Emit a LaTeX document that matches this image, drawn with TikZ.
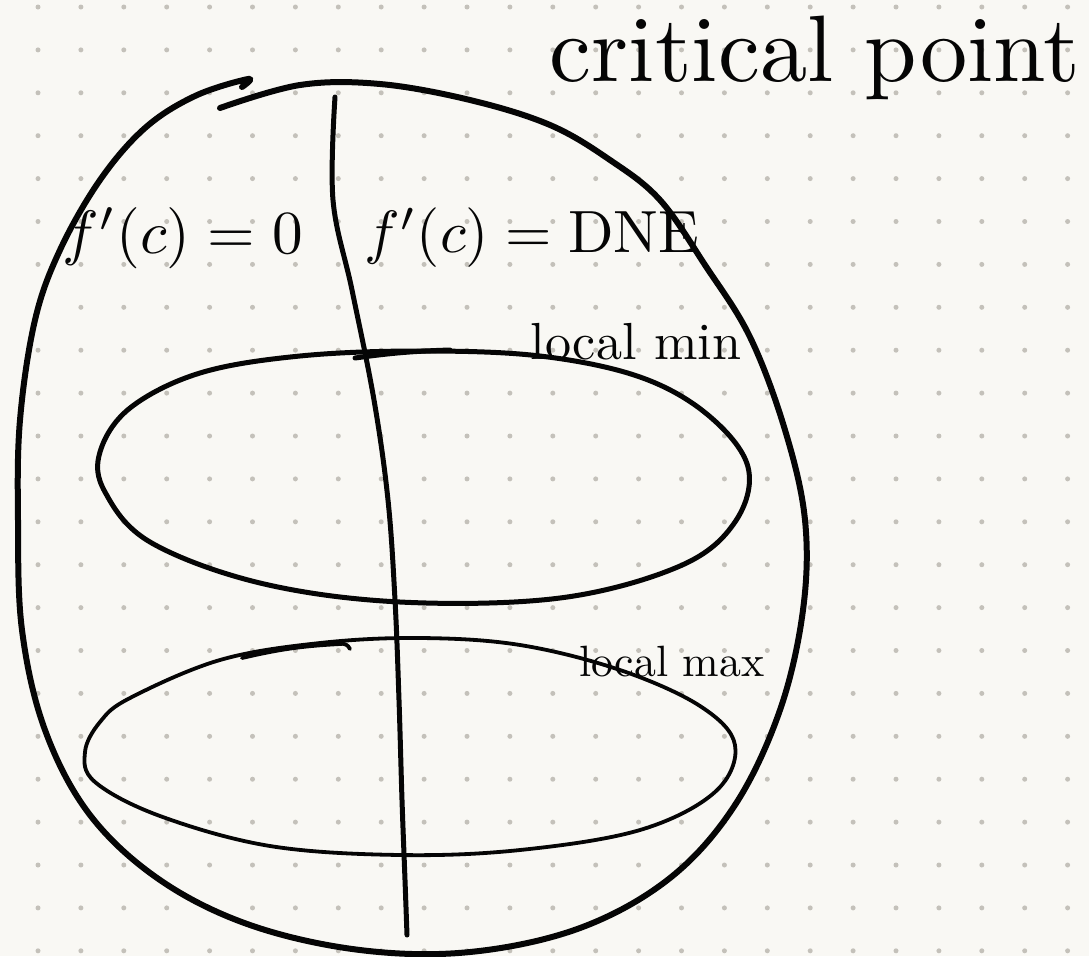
\documentclass[tikz,border=0pt]{standalone}
\usepackage{graphicx}
\definecolor{paper}{HTML}{F9F8F4}
\definecolor{dotc}{HTML}{C4C1BA}
\definecolor{ink}{HTML}{050505}
\tikzset{
  outerink/.style={draw=ink, line width=6pt, line cap=round, line join=round},
  ink/.style={draw=ink, line width=5pt, line cap=round, line join=round},
  thinink/.style={draw=ink, line width=3.8pt, line cap=round, line join=round},
  lbl/.style={text=ink, inner sep=0pt, anchor=center},
}
\begin{document}
\begin{tikzpicture}[x=1pt,y=-1pt]
\fill[paper] (0,0) rectangle (1089,956);
\useasboundingbox (0,0) rectangle (1089,956);
\foreach \px in {38,80.9,...,1088}{
  \foreach \py in {7,49.9,...,955}{
    \fill[dotc] (\px,\py) circle (2.5);
  }
}
% outer region
\draw[outerink] plot[smooth, tension=0.6] coordinates {
 (220,108) (300,85) (380,84) (470,100) (550,125) (610,160) (660,200) (705,265)
 (750,337) (785,430) (805,520) (803,610) (780,710) (735,805) (670,878)
 (580,928) (470,952) (360,950) (250,925) (160,880) (90,815) (45,730)
 (22,630) (18,520) (20,420) (35,320) (60,250) (100,180) (145,128) (195,96) (248,79) (242,87)};
% dividing line
\draw[ink] plot[smooth, tension=0.6] coordinates {
 (335,97) (333,200) (352,290) (374,400) (388,500) (395,600) (399,700) (402,800) (405,880) (407,935)};
% local min set
\draw[ink] plot[smooth cycle, tension=0.6] coordinates {
 (130,408) (200,373) (300,356) (420,351) (540,356) (640,377) (708,415) (748,467)
 (735,522) (680,566) (560,598) (400,602) (260,583) (150,542) (105,492) (100,452)};
\draw[ink] (355,358) to[bend left=3] (450,350);
% local max set
\draw[thinink] plot[smooth cycle, tension=0.6] coordinates {
 (130,698) (220,660) (320,643) (420,638) (520,645) (620,670) (700,706) (735,745)
 (715,792) (640,830) (520,850) (400,855) (270,846) (160,816) (95,782) (85,752) (100,722)};
\draw[thinink] (242,658) to[bend left=5] (340,644) to[bend left=40] (350,649);
% labels
\node[lbl] (crit) at (815,58) {\resizebox{530pt}{!}{critical point}};
\node[lbl] (zero) at (183,238) {\resizebox{240pt}{!}{$f'(c)=0$}};
\node[lbl] (dne) at (532,238) {\resizebox{335pt}{!}{$f'(c)=\mathrm{DNE}$}};
\node[lbl] (lmin) at (636,342) {\resizebox{210pt}{!}{local min}};
\node[lbl] (lmax) at (672,662) {\resizebox{185pt}{!}{local max}};
\end{tikzpicture}
\end{document}
